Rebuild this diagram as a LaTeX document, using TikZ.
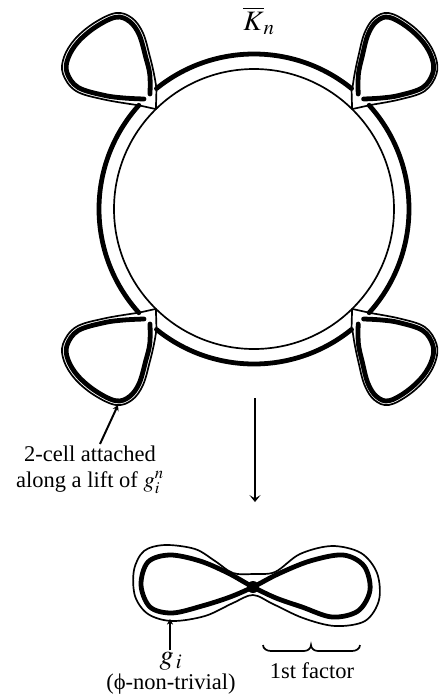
\documentclass[tikz,border=0pt]{standalone}
\usepackage{mathptmx}
\usepackage{fontspec}
\setmainfont{Liberation Serif}
\usetikzlibrary{arrows.meta}

\begin{document}
\begin{tikzpicture}[x=0.025cm,y=0.025cm,
    every node/.style={font=\fontsize{16}{17.8}\selectfont,inner sep=1pt},
    thickln/.style={line width=3.4pt,line join=round,line cap=round},
    thinln/.style={line width=1.2pt,line join=round},
    ptr/.style={line width=1.4pt,-{Stealth[length=4pt,width=4.5pt]}},
    bigarr/.style={line width=1.4pt,-{Stealth[length=5pt,width=8pt,inset=2.5pt]}}
  ]
    \useasboundingbox (0,0) rectangle (443,-698);
    \coordinate (ctr) at (254,-209);
    \draw[thinln] (ctr) circle[radius=140];
    \begin{scope}[shift={(ctr)}]
      \foreach \s/\e in {51/129,138/222,231/309,318/402}
        \draw[thickln] (\s:155) arc[start angle=\s,end angle=\e,radius=155];
    \end{scope}
    % the four 2-cells, mirrored from the upper left one
    \foreach \xs/\ys/\sq in {1/1/1,-1/1/0.9,1/-1/1,-1/-1/0.9}{
      \begin{scope}[shift={(ctr)},xscale=\xs,yscale=\ys]
        \draw[thinln] (-115.2,103.7) -- (-98.1,99.9) -- (-97.5,120.5);
        \begin{scope}[shift={(-106,110)},xscale=\sq,shift={(106,-110)}]
          \draw[thinln] plot[smooth,tension=0.6] coordinates {(-115.2,103.7) (-150,109.5) (-178,118) (-191,135) (-190,152) (-179,170) (-160,186) (-138,196) (-122,191) (-111,176) (-104,152) (-100,135) (-97.5,120.5)};
          \draw[thickln] plot[smooth,tension=0.6] coordinates {(-110,110) (-130,111) (-150,113.7) (-175.9,121.6) (-187,136.3) (-186,150.7) (-176,167) (-158.1,182.2) (-138,191.8) (-124.5,187.6) (-114.8,174.3) (-108.2,151.6) (-104.2,134.6) (-104,115)};
        \end{scope}
      \end{scope}
    }
    \node[font=\fontsize{20}{20}\selectfont] (kbar) at (259,-21) {$\overline{K}_n$};
    \node[align=center] (cellnote) at (90,-470) {2-cell attached\\along a lift of $g_i^n$};
    \coordinate (cellfoot) at (100,-444);
    \coordinate (celltip) at (118,-405);
    \draw[ptr] (cellfoot) -- (celltip);
    \coordinate (mapsrc) at (255,-398);
    \coordinate (mapdst) at (255,-502);
    \draw[bigarr] (mapsrc) -- (mapdst);
    % bouquet below
    \coordinate (wedge) at (253,-587);
    \draw[thinln] plot[smooth cycle,tension=0.55] coordinates {(253,-574) (233,-573) (215,-561) (195,-549) (165,-545) (144,-551) (134,-570) (135,-596) (148,-614) (172,-621) (205,-616) (233,-603) (253,-595) (273,-604) (303,-618) (335,-626) (365,-621) (379,-600) (377,-573) (361,-553) (332,-546) (300,-554) (275,-572)};
    \draw[thickln] plot[smooth cycle,tension=0.55] coordinates {(253,-587) (228,-573) (200,-561) (170,-555) (148,-562) (141,-585) (150,-607) (172,-613) (202,-606) (230,-597) (253,-587) (278,-574) (310,-561) (343,-555) (364,-566) (370,-590) (358,-611) (332,-617) (302,-607) (276,-598)};
    \fill (wedge) circle[radius=6];
    \node[align=center] (gnote) at (171,-673) {{\fontsize{20}{17.8}\selectfont$g_{\,i}$}\\(ϕ-non-trivial)};
    \coordinate (gtip) at (170,-619);
    \draw[ptr] (gnote.north -| gtip) -- (gtip);
    \draw[line width=1.2pt] (263,-645) to[out=-90,in=180] (271,-651) -- (304,-651) to[out=0,in=-90] (311,-645) to[out=-90,in=180] (318,-651) -- (352,-651) to[out=0,in=-90] (360,-645);
    \node (factor) at (312,-671) {1st factor};
  \end{tikzpicture}
\end{document}
